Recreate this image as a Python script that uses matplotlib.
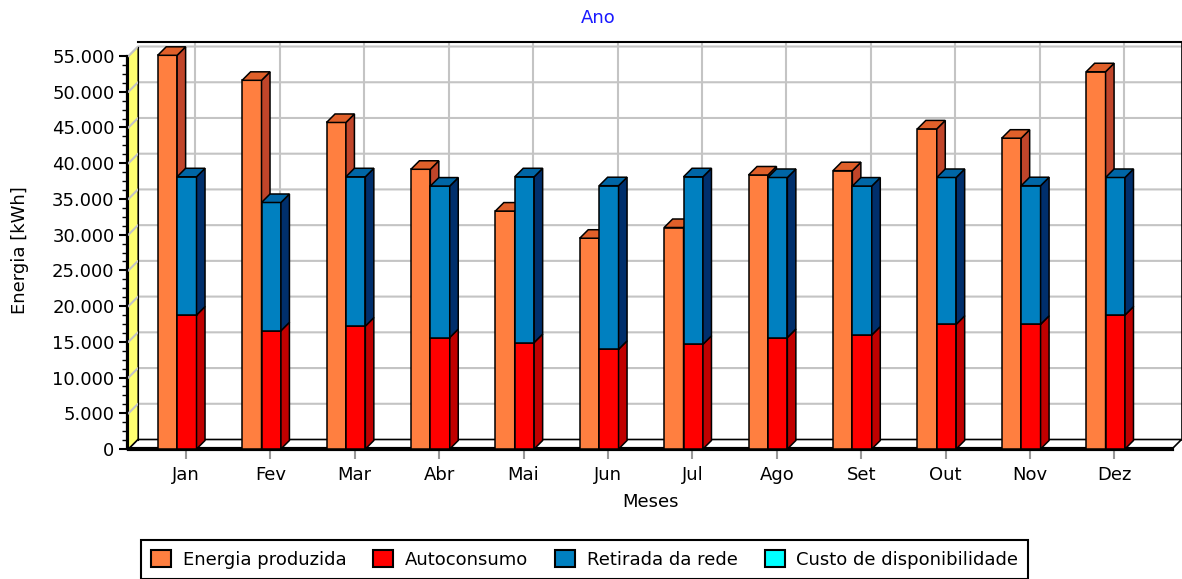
import numpy as np
import matplotlib.pyplot as plt
from matplotlib.patches import Polygon, Patch
from matplotlib.ticker import FixedLocator, FuncFormatter

plt.rcParams['font.family'] = ['DejaVu Sans']
plt.rcParams['font.size'] = 13

# dados (kWh)
meses = ['Jan', 'Fev', 'Mar', 'Abr', 'Mai', 'Jun', 'Jul', 'Ago', 'Set', 'Out', 'Nov', 'Dez']
energia_produzida = [55100, 51600, 45700, 39150, 33300, 29500, 31000, 38350, 38950, 44800, 43500, 52800]
autoconsumo = [18750, 16550, 17200, 15600, 14900, 13950, 14650, 15600, 15950, 17450, 17450, 18750]
retirada_rede = [19350, 17950, 20900, 21200, 23200, 22900, 23450, 22400, 20850, 20550, 19400, 19250]
custo_disponibilidade = [0] * 12

legenda = ['Energia produzida', 'Autoconsumo', 'Retirada da rede', 'Custo de disponibilidade']

# cores (frente, lateral, topo)
c_orange = ('#FF7F40', '#C0452A', '#E0602A')
c_red = ('#FF0000', '#C00000', '#E00000')
c_blue = ('#0080C0', '#002F6C', '#0066A6')
c_cyan = '#00FFFF'
c_wall = '#FFFF70'
c_grid = '#C4C4C4'

W, H = 1182, 579
fig = plt.figure(figsize=(W / 100, H / 100), dpi=100)
ax = fig.add_axes([128.5 / W, (H - 449) / H, (1172 - 128.5) / W, (449 - 41.5) / H])
x0, x1 = -0.681, 11.682
ytop = 57033
ymax = 55000
ax.set_xlim(x0, x1)
ax.set_ylim(0, ytop)

# profundidade "3D" em unidades de dados
DX = 9.5 / 84.4
DY = 9.5 / 7.145 * 1000
BX = 8.5 / 84.4
BY = 8.5 / 7.145 * 1000

# parede de fundo
ax.add_patch(Polygon([(x0 + DX, DY), (x1 + DX, DY), (x1 + DX, ytop), (x0 + DX, ytop)],
                     closed=True, facecolor='white', edgecolor='none', zorder=0.5, clip_on=False))
# parede lateral amarela
ax.add_patch(Polygon([(x0, 0), (x0 + DX, DY), (x0 + DX, ymax + DY), (x0, ymax)],
                     closed=True, facecolor=c_wall, edgecolor='black', lw=0.8, zorder=0.8, clip_on=False))
# chao
ax.add_patch(Polygon([(x0, 0), (x1, 0), (x1 + DX, DY), (x0 + DX, DY)],
                     closed=True, facecolor='white', edgecolor='black', lw=1.2, zorder=0.8, clip_on=False))

# grade
for v in range(5000, ymax + 1, 5000):
    ax.plot([x0, x0 + DX, x1 + DX], [v, v + DY, v + DY], color=c_grid, lw=1.5, zorder=1, clip_on=False)
for i in range(len(meses)):
    ax.plot([i + DX, i + DX], [DY, ytop], color=c_grid, lw=1.5, zorder=1, clip_on=False)

# moldura
ax.plot([x0 + DX, x1 + DX], [ytop, ytop], color='black', lw=1.5, zorder=1.2, clip_on=False)
ax.plot([x1 + DX, x1 + DX], [DY, ytop], color='black', lw=1.2, zorder=1.2, clip_on=False)
ax.plot([x0 + DX, x0 + DX], [DY, ymax + DY], color='black', lw=0.8, zorder=1.2, clip_on=False)


def bar3d(x, bottom, height, cores, z, top=True):
    w = 0.23
    ax.bar(x, height, width=w, bottom=bottom, align='edge', color=cores[0],
           edgecolor='black', lw=1.1, zorder=z)
    t = bottom + height
    ax.add_patch(Polygon([(x + w, bottom), (x + w + BX, bottom + BY), (x + w + BX, t + BY), (x + w, t)],
                         closed=True, facecolor=cores[1], edgecolor='black', lw=1.1, zorder=z))
    if top:
        ax.add_patch(Polygon([(x, t), (x + w, t), (x + w + BX, t + BY), (x + BX, t + BY)],
                             closed=True, facecolor=cores[2], edgecolor='black', lw=1.1, zorder=z))


for i in range(len(meses)):
    bar3d(i - 0.335, 0, energia_produzida[i], c_orange, 3)
    bar3d(i - 0.105, 0, autoconsumo[i], c_red, 4, top=False)
    bar3d(i - 0.105, autoconsumo[i], retirada_rede[i], c_blue, 4.5)

# eixos
for s in ['top', 'right']:
    ax.spines[s].set_visible(False)
ax.spines['left'].set_bounds(0, ymax)
ax.spines['left'].set_linewidth(1.6)
ax.spines['left'].set_position(('outward', 1))
ax.spines['left'].set_zorder(2)
ax.spines['bottom'].set_linewidth(3)
ax.spines['bottom'].set_zorder(2)
ax.set_facecolor('none')

ax.yaxis.set_major_locator(FixedLocator(np.arange(0, ymax + 1, 5000)))
ax.yaxis.set_minor_locator(FixedLocator(np.arange(0, ymax + 1, 1250)))
ax.yaxis.set_major_formatter(FuncFormatter(lambda v, p: f'{int(v):,}'.replace(',', '.')))
ax.tick_params(axis='y', which='major', length=6, width=1.5, pad=3, labelsize=13)
ax.tick_params(axis='y', which='minor', length=3.5, width=1)

ax.set_xticks(range(len(meses)))
ax.set_xticklabels(meses)
ax.tick_params(axis='x', length=7, width=1.5, color='#999999', pad=5, labelsize=13)
ax.set_xlabel('Meses', fontsize=13, labelpad=7)

fig.text(20 / W, 1 - 250 / H, 'Energia [kWh]', rotation=90, ha='center', va='center', fontsize=13)
fig.text(598 / W, 1 - 18 / H, 'Ano', color='#1a1aff', ha='center', va='center', fontsize=13)

# legenda
handles = [Patch(facecolor=c, edgecolor='black', linewidth=1.5, label=l)
           for c, l in zip([c_orange[0], c_red[0], c_blue[0], c_cyan], legenda)]
leg = fig.legend(handles=handles, loc='upper left', bbox_to_anchor=(141 / W, 1 - 540 / H),
                 ncol=4, frameon=True, fancybox=False, edgecolor='black', framealpha=1,
                 fontsize=13, handlelength=1.1, handleheight=1.1, handletextpad=0.65,
                 columnspacing=1.5, borderpad=0.55, borderaxespad=0)
leg.get_frame().set_linewidth(1.5)

fig.savefig('out.png', dpi=100)
